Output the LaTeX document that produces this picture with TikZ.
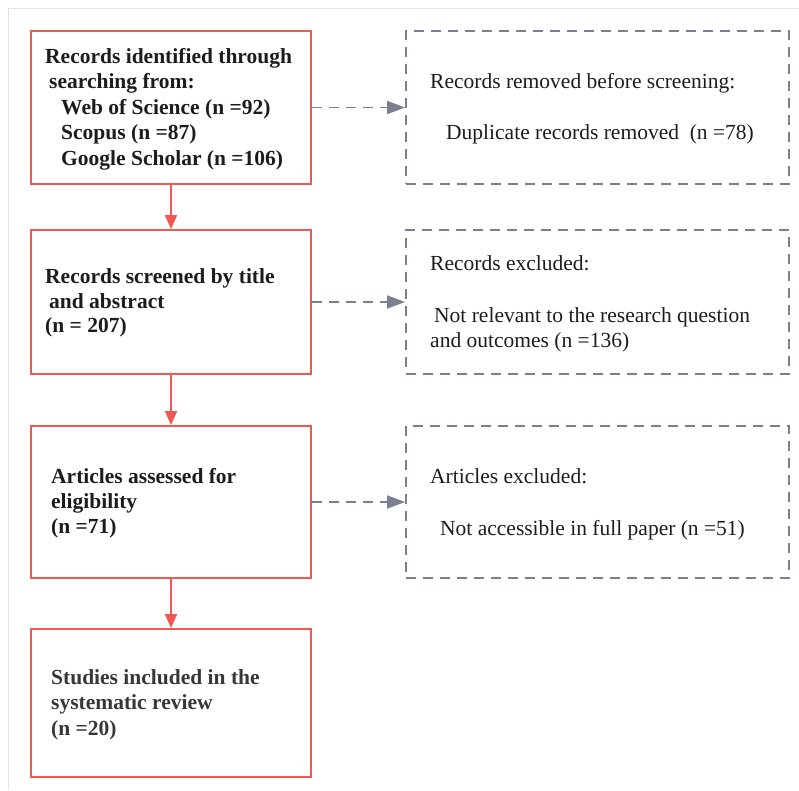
\documentclass[tikz,border=0pt]{standalone}
\usepackage{fontspec}
\setmainfont{Liberation Serif}
\usetikzlibrary{arrows.meta}
\definecolor{boxred}{RGB}{240,88,84}
\definecolor{dashgray}{RGB}{122,128,144}
\definecolor{frame}{RGB}{228,228,228}
\definecolor{txt}{RGB}{28,28,28}
\definecolor{txtb}{RGB}{55,55,55}
\tikzset{
  redbox/.style={draw=boxred, line width=1.8pt, rectangle, inner sep=0pt},
  graybox/.style={draw=dashgray, line width=1.9pt, dash pattern=on 10pt off 7pt, rectangle, inner sep=0pt},
  redarrow/.style={draw=boxred, line width=1.8pt, -{Triangle[length=14pt,width=12pt]}},
  grayarrow/.style={draw=dashgray, line width=1.9pt, dash pattern=on 10pt off 7pt, -{Triangle[length=18pt,width=13pt]}},
  bt/.style={anchor=base west, inner sep=0pt, font=\fontsize{21.5}{25}\selectfont\bfseries, text=txt},
  rt/.style={anchor=base west, inner sep=0pt, font=\fontsize{21.5}{25}\selectfont, text=txt},
}
\begin{document}
\begin{tikzpicture}[x=1pt,y=-1pt]
\useasboundingbox (0,0) rectangle (799,790);
\draw[frame, line width=1pt] (799,8) -- (8,8) -- (8,790);
% left boxes
\node[redbox, minimum width=280pt, minimum height=153pt] (b1) at (171,107.5) {};
\node[redbox, minimum width=280pt, minimum height=144pt] (b2) at (171,302) {};
\node[redbox, minimum width=280pt, minimum height=152pt] (b3) at (171,502) {};
\node[redbox, minimum width=280pt, minimum height=148pt] (b4) at (171,703) {};
% right boxes
\node[graybox, minimum width=383pt, minimum height=153pt] (r1) at (597.5,107.5) {};
\node[graybox, minimum width=383pt, minimum height=144pt] (r2) at (597.5,302) {};
\node[graybox, minimum width=383pt, minimum height=152pt] (r3) at (597.5,502) {};
% texts box 1
\node[bt] (t11) at (45,63) {Records identified through};
\node[bt] (t12) at (49,88) {searching from:};
\node[bt] (t13) at (61,114) {Web of Science (n =92)};
\node[bt] (t14) at (61,139) {Scopus (n =87)};
\node[bt] (t15) at (61,165) {Google Scholar (n =106)};
% box 2
\node[bt] (t21) at (45,283) {Records screened by title};
\node[bt] (t22) at (49,308) {and abstract};
\node[bt] (t23) at (45,332) {(n = 207)};
% box 3
\node[bt] (t31) at (51,483) {Articles assessed for};
\node[bt] (t32) at (51,508) {eligibility};
\node[bt] (t33) at (51,533) {(n =71)};
% box 4
\node[bt, text=txtb] (t41) at (51,684) {Studies included in the};
\node[bt, text=txtb] (t42) at (51,709) {systematic review};
\node[bt, text=txtb] (t43) at (51,735) {(n =20)};
% right texts
\node[rt] (s11) at (430,88) {Records removed before screening:};
\node[rt] (s12) at (446,139) {Duplicate records removed\ \ (n =78)};
\node[rt] (s21) at (430,270) {Records excluded:};
\node[rt] (s22) at (434,322) {Not relevant to the research question};
\node[rt] (s23) at (430,347) {and outcomes (n =136)};
\node[rt] (s31) at (430,483) {Articles excluded:};
\node[rt] (s32) at (440,535) {Not accessible in full paper (n =51)};
% arrows
\draw[redarrow] (b1) -- (b2);
\draw[redarrow] (b2) -- (b3);
\draw[redarrow] (b3) -- (b4);
\draw[grayarrow] (b1.east) -- (b1.east -| r1.west);
\draw[grayarrow] (b2.east) -- (b2.east -| r2.west);
\draw[grayarrow] (b3.east) -- (b3.east -| r3.west);
\end{tikzpicture}
\end{document}
